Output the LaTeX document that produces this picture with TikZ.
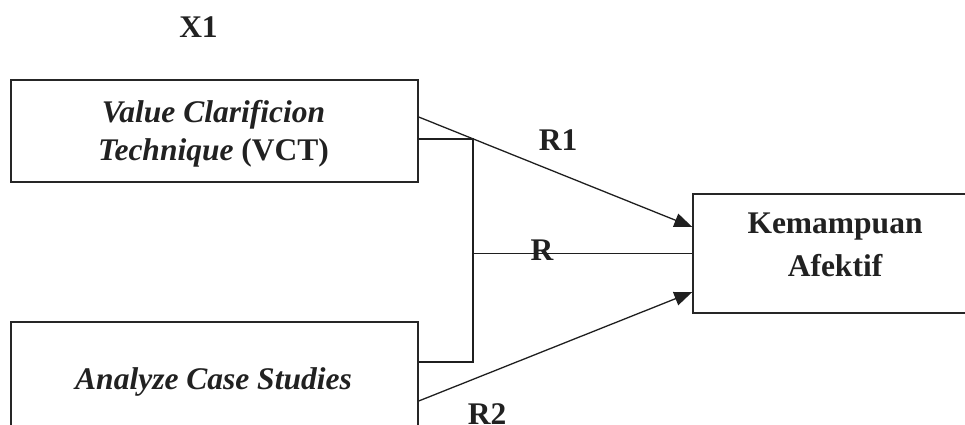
\documentclass[tikz,border=0pt]{standalone}
\usepackage{fontspec}
\setmainfont{Liberation Serif}
\usetikzlibrary{arrows.meta}
\begin{document}
\begin{tikzpicture}[x=1pt,y=-1pt,
  ink/.style={black!87},
  box/.style={draw=black!85, line width=1.4pt, minimum width=407pt, inner sep=0pt},
  lbl/.style={ink, font=\fontsize{31.5}{38}\selectfont\bfseries, anchor=base, inner sep=0pt},
  link/.style={draw=black!88, line width=1.3pt},
  arr/.style={link, -{Triangle[length=18pt,width=14pt]}}]
\useasboundingbox (0,0) rectangle (965,425);
\clip (0,0) rectangle (965,425);

% boxes
\node[box, minimum height=102pt] (vct) at (214.5,131) {};
\node[box, minimum height=158pt] (acs) at (214.5,401) {};
\node[box, minimum width=284pt, minimum height=119pt] (kem) at (835,253.5) {};

% texts
\node[lbl] (x1) at (198.5,38) {X1};
\node[lbl] (vct1) at (213.5,122) {\itshape Value Clarificion};
\node[lbl] (vct2) at (213.5,160) {\textit{Technique} (VCT)};
\node[lbl] (acs1) at (213.5,389) {\itshape Analyze Case Studies};
\node[lbl] (kem1) at (835,233) {Kemampuan};
\node[lbl] (kem2) at (835,276) {Afektif};

% junction of the two predictors
\coordinate (jt) at (473,139);
\coordinate (jb) at (473,362);
\coordinate (jm) at (473,253.5);

% connectors
\draw[arr] ([yshift=14pt]vct.east) -- ([yshift=26.5pt]kem.west);
\draw[link] ([yshift=-8pt]vct.east) -- (jt) -- (jb) -- ([yshift=39pt]acs.east);
\draw[link] (jm) -- (kem.west);
\draw[arr] (acs.east) -- ([yshift=-38.5pt]kem.west);

% path labels
\node[lbl] (r1) at (558,150) {R1};
\node[lbl] (r) at (542,260) {R};
\node[lbl] (r2) at (487,424) {R2};
\end{tikzpicture}
\end{document}
